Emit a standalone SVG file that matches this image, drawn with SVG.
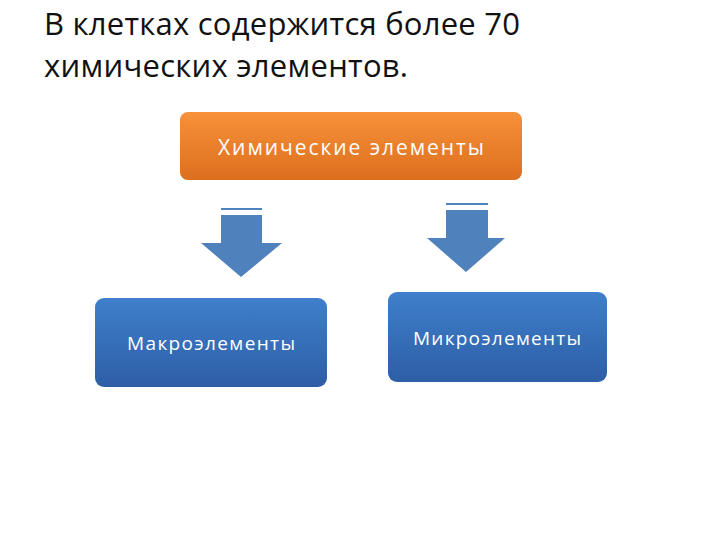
<svg xmlns="http://www.w3.org/2000/svg" width="720" height="540" viewBox="0 0 720 540">
<defs>
<linearGradient id="og" x1="0" y1="0" x2="0" y2="1"><stop offset="0" stop-color="#f7913a"/><stop offset="1" stop-color="#dc6f1e"/></linearGradient>
<linearGradient id="bg" x1="0" y1="0" x2="0" y2="1"><stop offset="0" stop-color="#3f7fcc"/><stop offset="1" stop-color="#2d5ea6"/></linearGradient>
<style>
.t{font-family:"Open Sans","Liberation Sans",sans-serif;fill:#fff;text-anchor:middle}
.h{font-family:"Open Sans","Liberation Sans",sans-serif;fill:#111;font-size:31px}
.ar{fill:#4f81bd}
.ln{stroke:#4f81bd;stroke-width:2}
</style>
</defs>
<rect width="720" height="540" fill="#fff"/>
<text class="h" x="44" y="35" textLength="476">В клетках содержится более 70</text>
<text class="h" x="44" y="77" textLength="364">химических элементов.</text>
<g id="chem"><rect x="180" y="112" width="342" height="68" rx="8" fill="url(#og)"/><text class="t" x="351" y="155" font-size="21" textLength="266">Химические элементы</text></g>
<g id="connectors">
<line class="ln" x1="221" y1="209" x2="262" y2="209"/>
<polygon class="ar" points="221,215 262,215 262,243 282,243 241,277 201,243 221,243"/>
<line class="ln" x1="446" y1="204" x2="488" y2="204"/>
<polygon class="ar" points="446,210 488,210 488,238 505,238 466,272 427,238 446,238"/>
</g>
<g id="macro"><rect x="95" y="298" width="232" height="89" rx="9" fill="url(#bg)"/><text class="t" x="211" y="350" font-size="19" textLength="168">Макроэлементы</text></g>
<g id="micro"><rect x="388" y="292" width="219" height="90" rx="9" fill="url(#bg)"/><text class="t" x="497" y="345" font-size="19" textLength="168">Микроэлементы</text></g>
</svg>
